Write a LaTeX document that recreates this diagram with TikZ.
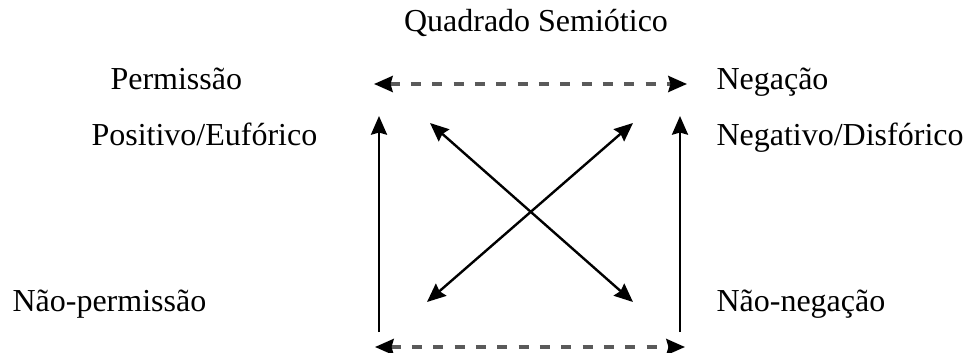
\documentclass[tikz,border=0pt]{standalone}
\usepackage{fontspec}
\setmainfont{Liberation Serif}
\usepackage{xcolor}
\usetikzlibrary{arrows.meta}
\definecolor{tracejado}{HTML}{5A5A5A}

\begin{document}
\begin{tikzpicture}[x=0.375pt,y=-0.375pt,
  rotulo/.style={anchor=base west,inner sep=0pt,font=\fontsize{12}{14}\selectfont},
  seta/.style={line width=0.9pt,-{Stealth[length=7pt,width=6pt,inset=0.8pt]}},
  dupla/.style={line width=0.9pt,{Stealth[length=7pt,width=6pt,inset=0.8pt]}-{Stealth[length=7pt,width=6pt,inset=0.8pt]}},
  tracos/.style={line width=1.25pt,color=tracejado,dash pattern=on 3.8pt off 4.2pt,
    {Stealth[length=7pt,width=6pt,inset=0.8pt,color=black]}-{Stealth[length=7pt,width=6pt,inset=0.8pt,color=black]}}]
\useasboundingbox (0,0) rectangle (963,353);
% titulo
\node[anchor=base,inner sep=0pt,font=\fontsize{12}{14}\selectfont] (titulo) at (536,32) {Quadrado Semiótico};
% rotulos dos cantos
\node[rotulo] (perm) at (110,90) {Permissão};
\node[rotulo] (neg) at (716,90) {Negação};
\node[rotulo] (pos) at (91,146) {Positivo/Eufórico};
\node[rotulo] (negt) at (716,146) {Negativo/Disfórico};
\node[rotulo] (naoperm) at (12,311) {Não-permissão};
\node[rotulo] (naoneg) at (716,311) {Não-negação};
% linhas tracejadas
\coordinate (TL) at (374,84);
\coordinate (TR) at (687,84);
\coordinate (BL) at (375,347);
\coordinate (BR) at (685,347);
\draw[tracos] (TL)--(TR);
\draw[tracos] (BL)--(BR);
% setas verticais
\coordinate (VLb) at (379,332);
\coordinate (VLt) at (379,116);
\coordinate (VRb) at (680,332);
\coordinate (VRt) at (680,116);
\draw[seta] (VLb)--(VLt);
\draw[seta] (VRb)--(VRt);
% diagonais
\coordinate (D1) at (430,123);
\coordinate (D2) at (633,302);
\coordinate (D3) at (633,123);
\coordinate (D4) at (427,302);
\draw[dupla] (D1)--(D2);
\draw[dupla] (D3)--(D4);
\end{tikzpicture}
\end{document}
